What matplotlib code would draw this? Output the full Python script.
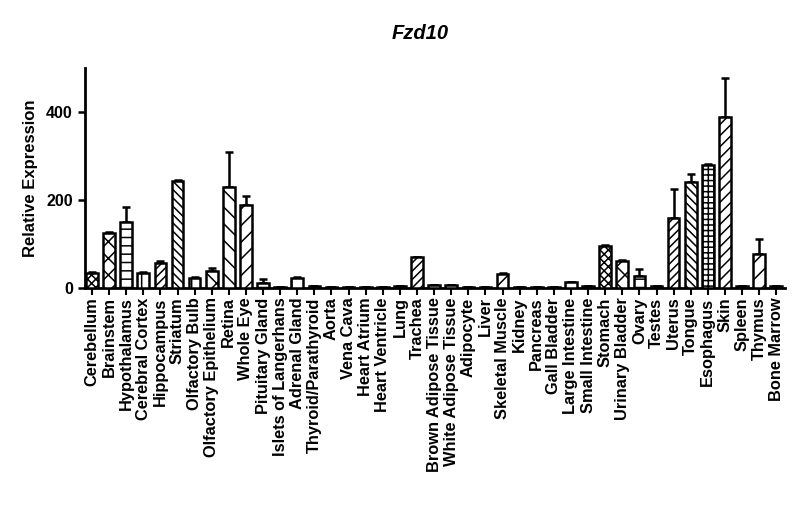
#!/usr/bin/env python3
"""Fzd10 relative expression across mouse tissues."""

import matplotlib

matplotlib.use("Agg")
import matplotlib.pyplot as plt
import numpy as np

TISSUES = [
    "Cerebellum", "Brainstem", "Hypothalamus", "Cerebral Cortex", "Hippocampus",
    "Striatum", "Olfactory Bulb", "Olfactory Epithelium", "Retina", "Whole Eye",
    "Pituitary Gland", "Islets of Langerhans", "Adrenal Gland", "Thyroid/Parathyroid",
    "Aorta", "Vena Cava", "Heart Atrium", "Heart Ventricle", "Lung", "Trachea",
    "Brown Adipose Tissue", "White Adipose Tissue", "Adipocyte", "Liver",
    "Skeletal Muscle", "Kidney", "Pancreas", "Gall Bladder", "Large Intestine",
    "Small Intestine", "Stomach", "Urinary Bladder", "Ovary", "Testes", "Uterus",
    "Tongue", "Esophagus", "Skin", "Spleen", "Thymus", "Bone Marrow",
]

MEAN = [
    34, 124, 149, 34, 57, 243, 22, 39, 229, 189,
    10, 2, 23, 4, 1, 1, 1, 1, 3, 70,
    6, 6, 1, 1, 32, 1, 1, 1, 12, 3,
    96, 61, 26, 3, 159, 241, 280, 388, 3, 77, 3,
]

ERR = [
    1, 2, 35, 1, 3, 3, 2, 7, 80, 21,
    9, 0, 1, 1, 0, 0, 0, 0, 1, 1,
    1, 1, 0, 0, 2, 0, 0, 0, 1, 0,
    2, 2, 16, 1, 66, 17, 1, 90, 0, 33, 0,
]

HATCHES = [
    "xxxx", "xx", "--", "|", "////", "\\\\\\\\", "+", "x", "\\\\", "//",
    "--", "", "|", "", "", "", "", "", "", "////",
    "", "", "", "", "//", "", "", "", "", "",
    "xxxx", "xx", "--", "", "////", "\\\\\\\\", "+++", "///", "", "//", "",
]

plt.rcParams["font.family"] = ["Liberation Sans", "DejaVu Sans"]
plt.rcParams["font.weight"] = "bold"
plt.rcParams["hatch.linewidth"] = 1.1

fig = plt.figure(figsize=(8.0, 5.28), dpi=100)
ax = fig.add_axes([0.106, 0.455, 0.875, 0.416])

x = np.arange(len(TISSUES))
ax.bar(
    x,
    MEAN,
    0.68,
    color="white",
    edgecolor="black",
    linewidth=1.8,
    hatch=HATCHES,
    zorder=3,
)
ax.errorbar(
    x,
    MEAN,
    yerr=[np.zeros(len(ERR)), ERR],
    fmt="none",
    ecolor="black",
    elinewidth=1.8,
    capsize=3,
    capthick=1.8,
    zorder=2,
)

ax.set_xlim(-0.42, 40.5)
ax.set_ylim(0, 500)
ax.set_yticks([0, 200, 400])
ax.set_xticks(x)
ax.set_xticklabels(TISSUES, rotation=90, fontsize=11.8, fontweight="bold")
ax.tick_params(axis="y", labelsize=11.5, width=1.8, length=5)
ax.tick_params(axis="x", width=1.5, length=5, pad=2)
for label in ax.get_yticklabels():
    label.set_fontweight("bold")
ax.set_ylabel("Relative Expression", fontsize=12, fontweight="bold", labelpad=6)
ax.spines["top"].set_visible(False)
ax.spines["right"].set_visible(False)
ax.spines["left"].set_linewidth(2)
ax.spines["bottom"].set_linewidth(2)

fig.text(0.525, 0.937, "Fzd10", ha="center", va="center", fontsize=14.5,
         fontweight="bold", fontstyle="italic")

fig.savefig("out.png", dpi=100)
